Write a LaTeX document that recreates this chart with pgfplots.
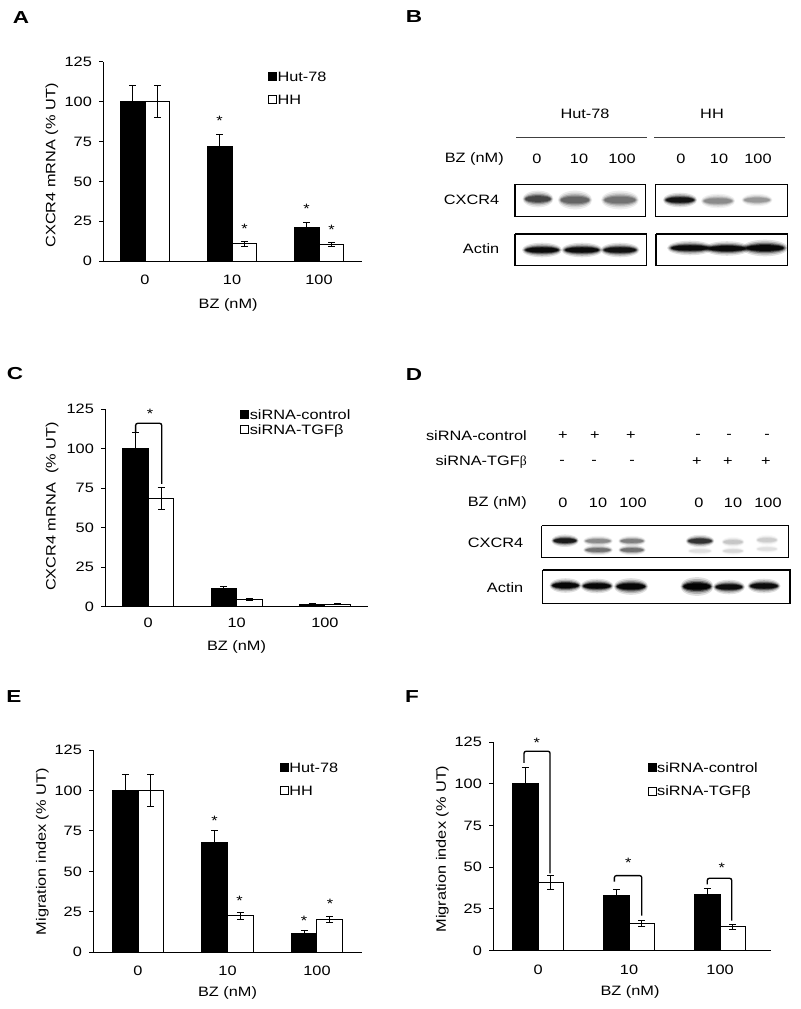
\documentclass[border=0pt]{standalone}
\usepackage{fontspec}
\setmainfont{Liberation Sans}[FakeStretch=1.2]
\newfontfamily\letterfont{Liberation Sans}[FakeStretch=1.3]
\newfontfamily\serifgreek{Liberation Serif}
\usepackage{pgfplots}
\pgfplotsset{compat=1.18}
\usetikzlibrary{plotmarks}

\newcommand{\txtfont}{\fontsize{10.2}{12}\selectfont}

\pgfdeclareplotmark{band}{%
  \pgfsetfillopacity{0.12}%
  \pgfpathellipse{\pgfpointorigin}{\pgfpoint{0.43pt*\bw}{0pt}}{\pgfpoint{0pt}{0.78pt*\bh}}%
  \pgfusepathqfill
  \pgfsetfillopacity{0.2}%
  \pgfpathellipse{\pgfpointorigin}{\pgfpoint{0.41pt*\bw}{0pt}}{\pgfpoint{0pt}{0.62pt*\bh}}%
  \pgfusepathqfill
  \pgfsetfillopacity{0.35}%
  \pgfpathellipse{\pgfpointorigin}{\pgfpoint{0.39pt*\bw}{0pt}}{\pgfpoint{0pt}{0.48pt*\bh}}%
  \pgfusepathqfill
  \pgfsetfillopacity{0.6}%
  \pgfpathellipse{\pgfpointorigin}{\pgfpoint{0.37pt*\bw}{0pt}}{\pgfpoint{0pt}{0.37pt*\bh}}%
  \pgfusepathqfill
  \pgfsetfillopacity{1}%
  \pgfpathellipse{\pgfpointorigin}{\pgfpoint{0.35pt*\bw}{0pt}}{\pgfpoint{0pt}{0.27pt*\bh}}%
  \pgfusepathqfill
}

\pgfplotsset{
  bc/.style={
    scale only axis, anchor=south west, clip=false,
    axis x line*=bottom, axis y line*=left,
    axis line style={-, line width=0.75pt},
    ymin=0, ymax=125, ytick={0,25,50,75,100,125},
    yticklabels={0,25,50,75,100,125},
    xtick={0,1,2}, xticklabels={0,10,100},
    tick align=outside, major tick length=2.8pt,
    ytick style={line width=0.75pt, black},
    xtick style={draw=none},
    tick label style={font=\txtfont},
    label style={font=\txtfont},
    yticklabel style={xshift=-2pt},
    legend cell align=left,
    legend style={draw=none, fill=none, anchor=north west, inner sep=0pt, font=\txtfont,
      row sep=8.75pt, nodes={inner sep=0.6pt, text height=7.5pt, text depth=0pt}},
  },
  ebar/.style={error bars/y dir=both, error bars/y explicit,
    error bars/error bar style={line width=0.75pt, black},
    error bars/error mark options={rotate=90, mark size=2.6pt, line width=0.75pt, black}},
  blk/.style={ybar, bar width=#1, bar shift=0pt, fill=black, draw=black, line width=0.75pt,
    legend image code/.code={\draw[black, fill=black, line width=0.6pt] (0pt,-3pt) rectangle (6pt,3pt);},
    ebar},
  wht/.style={ybar, bar width=#1, bar shift=0pt, fill=white, draw=black, line width=0.75pt,
    legend image code/.code={\draw[black, fill=white, line width=0.6pt] (0pt,-3pt) rectangle (6pt,3pt);},
    ebar},
  brk/.style={black, line width=1pt, rounded corners=1.5pt, mark=none},
  blot/.style={scale only axis, anchor=south west, hide axis, clip=false,
    colormap={blotmap}{color=(white) color=(black)}, point meta min=0, point meta max=1},
  bands/.style={scatter, only marks, mark=band, point meta=explicit,
    scatter/use mapped color={draw=none, fill=mapped color},
    visualization depends on={\thisrow{w}\as\bw},
    visualization depends on={\thisrow{h}\as\bh}},
  boxl/.style={black, line width=1pt, mark=none, line join=miter},
}
\tikzset{star/.style={anchor=center, yshift=-2.1pt, inner sep=0pt, font=\txtfont},
  plet/.style={font=\letterfont\fontsize{13}{15}\selectfont\bfseries, inner sep=0pt}}

\begin{document}
\begin{tikzpicture}[font=\txtfont]
\path (0,0) rectangle (600pt,-756.75pt);

% ---------------- A ----------------
\node[plet] at (15.75pt,-13.5pt) {A};
\begin{axis}[bc, at={(77.25pt,-195.75pt)}, width=194.25pt, height=149.25pt,
  xmin=-0.483, xmax=2.494,
  xticklabel style={yshift=-4.2pt},
  ylabel={CXCR4 mRNA (\% UT)}, ylabel style={at={(axis description cs:-0.197,0.48)}, anchor=center},
  xlabel={BZ (nM)}, xlabel style={at={(axis description cs:0.483,-0.221)}, anchor=center},
  legend style={at={(axis description cs:0.636,0.958)}}]
\addplot[blk=0.287] coordinates {(-0.1435,100) +- (0,10) (0.8565,71.8) +- (0,7.8) (1.8565,20.9) +- (0,3.2)};
\addlegendentry{Hut-78}
\addplot[wht=0.287] coordinates {(0.1435,100) +- (0,10) (1.1435,10.7) +- (0,1.5) (2.1435,10.5) +- (0,1.3)};
\addlegendentry{HH}
\node[star] at (axis cs:0.8565,89.6) {*};
\node[star] at (axis cs:1.1435,22.2) {*};
\node[star] at (axis cs:1.8565,34.5) {*};
\node[star] at (axis cs:2.1435,21.5) {*};
\end{axis}

% ---------------- B ----------------
\node[plet] at (310.5pt,-12.75pt) {B};
\begin{axis}[blot, at={(330pt,-210pt)}, width=270pt, height=138.75pt,
  xmin=440, xmax=800, ymin=-280, ymax=-95]
\addplot[bands] table[x=x, y=y, meta=g] {
x y w h g
538 -199 27 8 0.72
575 -200 30 9 0.60
620 -200 33 9 0.55
680 -200 30 7 0.92
718 -201 30 7 0.45
757 -200 27 6 0.40
542 -250 35 7 0.95
582 -250 36 7 0.95
620 -250 34 7 0.93
690 -248 40 7 0.95
727 -248.5 40 7 0.95
765 -248 40 8 0.96
};
\addplot[boxl] coordinates {(515,-184.3) (645.7,-184.3) (645.7,-216.7) (515,-216.7) (515,-184.3)};
\addplot[boxl] coordinates {(655.7,-184.3) (787.3,-184.3) (787.3,-216.7) (655.7,-216.7) (655.7,-184.3)};
\addplot[boxl] coordinates {(515,-234) (646.7,-234) (646.7,-265.7) (515,-265.7) (515,-234)};
\addplot[boxl] coordinates {(656,-234) (787.3,-234) (787.3,-265.7) (656,-265.7) (656,-234)};
\addplot[black!75, line width=0.6pt, mark=none] coordinates {(516,-137) (647,-137)};
\addplot[black!75, line width=0.6pt, mark=none] coordinates {(654,-137) (785,-137)};
\node at (axis cs:585,-114) {Hut-78};
\node at (axis cs:712,-114) {HH};
\node[anchor=east, inner sep=0pt] at (axis cs:504,-159) {BZ (nM)};
\node at (axis cs:537,-159) {0};
\node at (axis cs:579,-159) {10};
\node at (axis cs:622,-159) {100};
\node at (axis cs:681,-159) {0};
\node at (axis cs:719,-159) {10};
\node at (axis cs:758,-159) {100};
\node[anchor=east, inner sep=0pt] at (axis cs:499.5,-200) {CXCR4};
\node[anchor=east, inner sep=0pt] at (axis cs:499.5,-249) {Actin};
\end{axis}

% ---------------- C ----------------
\node[plet] at (11.25pt,-280.5pt) {C};
\begin{axis}[bc, at={(78.75pt,-455pt)}, width=197.25pt, height=148.05pt,
  xmin=-0.49, xmax=2.488,
  xticklabel style={yshift=-2.5pt},
  ylabel={CXCR4 mRNA\ \ (\% UT)}, ylabel style={at={(axis description cs:-0.2015,0.507)}, anchor=center},
  xlabel={BZ (nM)}, xlabel style={at={(axis description cs:0.5,-0.203)}, anchor=center},
  legend style={at={(axis description cs:0.513,1.005)}, row sep=2.5pt}]
\addplot[blk=0.289] coordinates {(-0.1445,100) +- (0,10) (0.8555,11.8) +- (0,0.8) (1.8555,1.6) +- (0,0.2)};
\addlegendentry{siRNA-control}
\addplot[wht=0.289] coordinates {(0.1445,68.5) +- (0,6.9) (1.1445,4.6) +- (0,0.5) (2.1445,1.6) +- (0,0.2)};
\addlegendentry{siRNA-TGFβ}
\addplot[brk] coordinates {(-0.143,110.4) (-0.143,116.1) (0.152,116.1) (0.152,77.7)};
\node[star] at (axis cs:0.02,124) {*};
\end{axis}

% ---------------- D ----------------
\node[plet] at (310.5pt,-281.25pt) {D};
\begin{axis}[blot, at={(315pt,-465pt)}, width=285pt, height=150pt,
  xmin=420, xmax=800, ymin=-620, ymax=-420]
\addplot[bands] table[x=x, y=y, meta=g] {
x y w h g
565 -540.7 24 6 0.90
598 -541 26 5 0.45
632 -541 24 5 0.50
700 -541 25 6 0.80
733 -542 20 5 0.22
767 -540 20 5 0.20
598 -550 26 5 0.55
632 -550 24 5 0.55
700 -551 22 4 0.12
733 -551 20 4 0.15
767 -549 20 4 0.12
565.5 -585.5 28 7 0.97
597 -586 29 7 0.97
631 -586.5 30 8 0.97
697 -586.5 29 9 0.98
729 -587 28 7 0.95
764 -586 29 7 0.95
};
\addplot[boxl] coordinates {(541.7,-525.7) (788.3,-525.7) (788.3,-557.7) (541.7,-557.7) (541.7,-525.7)};
\addplot[boxl] coordinates {(542.7,-570) (790,-570) (790,-603.3) (542.7,-603.3) (542.7,-570)};
\node[anchor=east, inner sep=0pt] at (axis cs:527,-436) {siRNA-control};
\node[anchor=east, inner sep=0pt] at (axis cs:527,-462) {siRNA-TGF{\serifgreek β}};
\node[anchor=east, inner sep=0pt] at (axis cs:527,-503) {BZ (nM)};
\node[anchor=east, inner sep=0pt] at (axis cs:523.5,-543) {CXCR4};
\node[anchor=east, inner sep=0pt] at (axis cs:523.5,-588) {Actin};
\node at (axis cs:563,-436) {+};
\node at (axis cs:595,-436) {+};
\node at (axis cs:631,-436) {+};
\node at (axis cs:698,-436) {-};
\node at (axis cs:729,-436) {-};
\node at (axis cs:767,-436) {-};
\node at (axis cs:562,-462) {-};
\node at (axis cs:594,-462) {-};
\node at (axis cs:632,-462) {-};
\node at (axis cs:697,-462) {+};
\node at (axis cs:728,-462) {+};
\node at (axis cs:766,-462) {+};
\node at (axis cs:563,-503) {0};
\node at (axis cs:598,-503) {10};
\node at (axis cs:633,-503) {100};
\node at (axis cs:699,-503) {0};
\node at (axis cs:733,-503) {10};
\node at (axis cs:768,-503) {100};
\end{axis}

% ---------------- E ----------------
\node[plet] at (10.5pt,-522.75pt) {E};
\begin{axis}[bc, at={(69.75pt,-714.2pt)}, width=201.75pt, height=151.7pt,
  xmin=-0.503, xmax=2.503,
  xticklabel style={yshift=-4.2pt},
  ylabel={Migration index (\% UT)}, ylabel style={at={(axis description cs:-0.188,0.497)}, anchor=center},
  xlabel={BZ (nM)}, xlabel style={at={(axis description cs:0.5,-0.203)}, anchor=center},
  legend style={at={(axis description cs:0.693,0.943)}}]
\addplot[blk=0.285] coordinates {(-0.1425,100) +- (0,10) (0.8575,68) +- (0,7) (1.8575,11.7) +- (0,2)};
\addlegendentry{Hut-78}
\addplot[wht=0.285] coordinates {(0.1425,100) +- (0,10) (1.1425,22.6) +- (0,2.2) (2.1425,20.4) +- (0,2)};
\addlegendentry{HH}
\node[star] at (axis cs:0.855,83.2) {*};
\node[star] at (axis cs:1.134,33.4) {*};
\node[star] at (axis cs:1.855,21.4) {*};
\node[star] at (axis cs:2.145,31.9) {*};
\end{axis}

% ---------------- F ----------------
\node[plet] at (309pt,-522.75pt) {F};
\begin{axis}[bc, at={(369.75pt,-713pt)}, width=208.5pt, height=156.3pt,
  xmin=-0.495, xmax=2.56,
  xticklabel style={yshift=-4.5pt},
  ylabel={Migration index (\% UT)}, ylabel style={at={(axis description cs:-0.182,0.488)}, anchor=center},
  xlabel={BZ (nM)}, xlabel style={at={(axis description cs:0.493,-0.197)}, anchor=center},
  legend style={at={(axis description cs:0.555,0.907)}}]
\addplot[blk=0.282] coordinates {(-0.141,100) +- (0,10) (0.859,33) +- (0,3.8) (1.859,33.4) +- (0,3.6)};
\addlegendentry{siRNA-control}
\addplot[wht=0.282] coordinates {(0.141,40.8) +- (0,4) (1.141,16.4) +- (0,1.6) (2.141,14.4) +- (0,1.4)};
\addlegendentry{siRNA-TGFβ}
\addplot[brk] coordinates {(-0.154,112.6) (-0.154,119.6) (0.132,119.6) (0.132,46.4)};
\addplot[brk] coordinates {(0.839,41.4) (0.839,45) (1.14,45) (1.14,21)};
\addplot[brk] coordinates {(1.86,39.8) (1.86,43.4) (2.128,43.4) (2.128,18)};
\node[star] at (axis cs:-0.015,126.4) {*};
\node[star] at (axis cs:0.992,54.4) {*};
\node[star] at (axis cs:2.019,51.4) {*};
\end{axis}
\end{tikzpicture}
\end{document}
